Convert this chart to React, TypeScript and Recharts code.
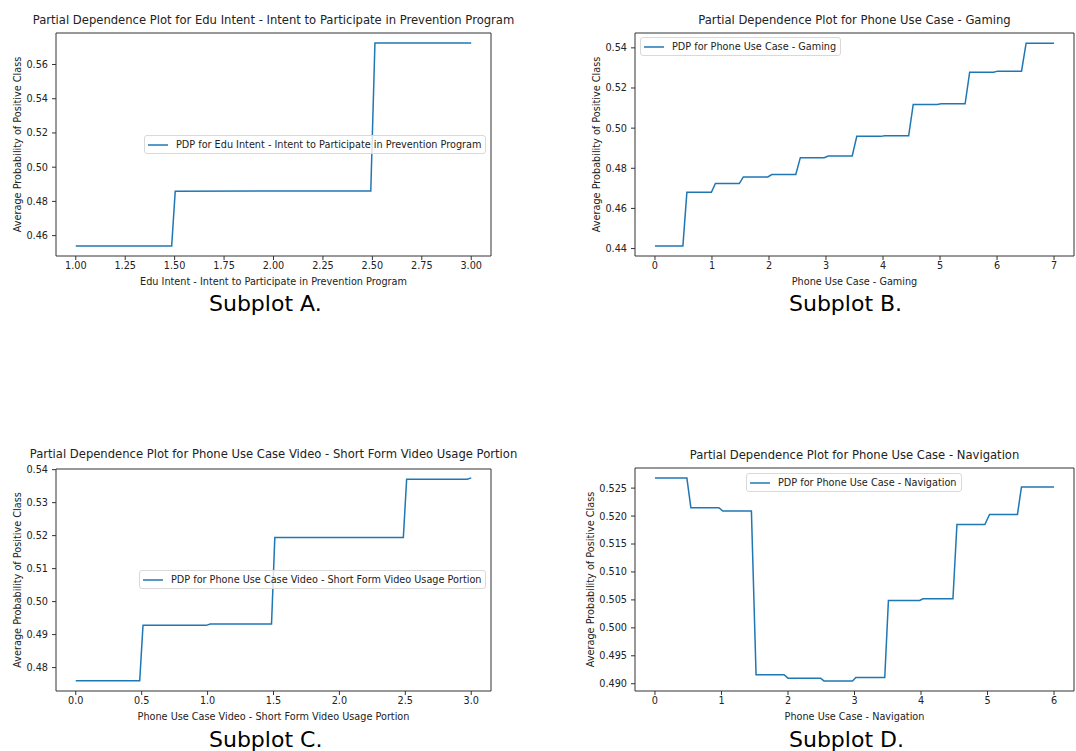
import { LineChart, Line, XAxis, YAxis, Legend, ReferenceArea, Label } from 'recharts'

const FONT = '"DejaVu Sans", sans-serif'
const BLUE = '#1f77b4'

// Subplot A - Edu Intent
const eduX = [1.0, 1.485, 1.503, 2.0, 2.492, 2.513, 3.0]
const eduY = [0.4539, 0.4539, 0.486, 0.4861, 0.4861, 0.5726, 0.5726]
const eduXTicks = [1.0, 1.25, 1.5, 1.75, 2.0, 2.25, 2.5, 2.75, 3.0]
const eduYTicks = [0.46, 0.48, 0.5, 0.52, 0.54, 0.56]

// Subplot B - Gaming
const gamingX = [0, 0.49, 0.56, 0.99, 1.06, 1.48, 1.55, 1.98, 2.05, 2.47, 2.55, 2.97, 3.04, 3.46, 3.54, 3.96, 4.03, 4.45, 4.53, 4.95, 5.02, 5.44, 5.52, 5.94, 6.01, 6.43, 6.51, 7.0]
const gamingY = [0.4413, 0.4413, 0.468, 0.468, 0.4724, 0.4724, 0.4757, 0.4757, 0.4769, 0.4769, 0.4853, 0.4853, 0.4861, 0.4861, 0.4959, 0.4959, 0.4962, 0.4962, 0.5118, 0.5118, 0.5121, 0.5121, 0.5279, 0.5279, 0.5284, 0.5284, 0.5423, 0.5423]
const gamingXTicks = [0, 1, 2, 3, 4, 5, 6, 7]
const gamingYTicks = [0.44, 0.46, 0.48, 0.5, 0.52, 0.54]

// Subplot C - Short form video
const videoX = [0, 0.485, 0.51, 0.99, 1.02, 1.485, 1.51, 2.485, 2.51, 2.97, 3.0]
const videoY = [0.476, 0.476, 0.4928, 0.4928, 0.4932, 0.4932, 0.5194, 0.5194, 0.5371, 0.5371, 0.5375]
const videoXTicks = [0, 0.5, 1.0, 1.5, 2.0, 2.5, 3.0]
const videoYTicks = [0.48, 0.49, 0.5, 0.51, 0.52, 0.53, 0.54]

// Subplot D - Navigation
const navX = [0, 0.48, 0.54, 0.96, 1.02, 1.45, 1.52, 1.94, 2.0, 2.49, 2.54, 2.97, 3.02, 3.455, 3.51, 3.98, 4.03, 4.48, 4.54, 4.96, 5.03, 5.45, 5.51, 6.0]
const navY = [0.5268, 0.5268, 0.5215, 0.5215, 0.5209, 0.5209, 0.4916, 0.4916, 0.491, 0.491, 0.4905, 0.4905, 0.4911, 0.4911, 0.5049, 0.5049, 0.5052, 0.5052, 0.5185, 0.5185, 0.5203, 0.5203, 0.5252, 0.5252]
const navXTicks = [0, 1, 2, 3, 4, 5, 6]
const navYTicks = [0.49, 0.495, 0.5, 0.505, 0.51, 0.515, 0.52, 0.525]

const zip = (xs: number[], ys: number[]) => xs.map((x, i) => ({ x, y: ys[i] }))

type Box = { x0: number; y0: number; x1: number; y1: number }

interface PanelProps {
  left: number
  top: number
  width: number
  height: number
  box: Box
  data: Array<{ x: number; y: number }>
  xDomain: [number, number]
  xTicks: number[]
  xDigits: number
  yDomain: [number, number]
  yTicks: number[]
  yDigits: number
  title: string
  titleTop: number
  xLabel: string
  legendText: string
  legendLeft: number
  legendTop: number
  yLabelX: number
  caption: string
  captionLeft: number
  captionTop: number
}

const X_AXIS_H = 34
const SMALL = 9.7
const tickStyle = { fontSize: SMALL, fill: '#222', fontFamily: FONT }

function PdpLegend({ text }: { text: string }) {
  return (
    <div
      style={{
        display: 'flex',
        width: 'max-content',
        alignItems: 'center',
        boxSizing: 'border-box',
        height: 19,
        background: 'rgba(255,255,255,0.8)',
        border: '1px solid #d9d9d9',
        borderRadius: 3,
        padding: '0 4px 0 3px',
        fontSize: SMALL,
        color: '#222',
        whiteSpace: 'nowrap',
        fontFamily: FONT,
        lineHeight: '11px'
      }}
    >
      <svg width={20} height={4} style={{ display: 'block', marginRight: 8 }}>
        <line x1={0} y1={2} x2={20} y2={2} stroke={BLUE} strokeWidth={1.5} />
      </svg>
      <span>{text}</span>
    </div>
  )
}

function Panel(p: PanelProps) {
  const boxCx = (p.box.x0 + p.box.x1) / 2
  const boxCy = (p.box.y0 + p.box.y1) / 2
  const margin = {
    top: p.box.y0 - p.top,
    right: p.left + p.width - p.box.x1,
    bottom: p.top + p.height - p.box.y1 - X_AXIS_H,
    left: 0
  }
  const yLabelY = boxCy - p.top
  const xLabelX = boxCx - p.left
  const xLabelY = p.box.y1 - p.top + 25

  return (
    <>
      <div
        style={{
          position: 'absolute',
          left: p.box.x0 - 60,
          width: p.box.x1 - p.box.x0 + 120,
          top: p.titleTop,
          textAlign: 'center',
          fontSize: 11.6,
          lineHeight: '11.6px',
          color: '#222',
          whiteSpace: 'nowrap'
        }}
      >
        {p.title}
      </div>
      <div style={{ position: 'absolute', left: p.left, top: p.top }}>
        <LineChart width={p.width} height={p.height} data={p.data} margin={margin}>
          <XAxis
            type="number"
            dataKey="x"
            domain={p.xDomain}
            ticks={p.xTicks}
            allowDataOverflow
            height={X_AXIS_H}
            tick={tickStyle}
            tickLine={{ stroke: '#333' }}
            axisLine={false}
            tickSize={4}
            tickMargin={2}
            tickFormatter={(v: number) => v.toFixed(p.xDigits)}
            interval={0}
          >
            <Label
              content={() => (
                <text x={xLabelX} y={xLabelY} textAnchor="middle" dominantBaseline="central" fontSize={SMALL} fill="#222" fontFamily={FONT}>
                  {p.xLabel}
                </text>
              )}
            />
          </XAxis>
          <YAxis
            type="number"
            domain={p.yDomain}
            ticks={p.yTicks}
            allowDataOverflow
            width={p.box.x0 - p.left}
            tick={tickStyle}
            tickLine={{ stroke: '#333' }}
            axisLine={false}
            tickSize={4}
            tickMargin={4}
            tickFormatter={(v: number) => v.toFixed(p.yDigits)}
            interval={0}
          >
            <Label
              content={() => (
                <text
                  x={p.yLabelX}
                  y={yLabelY}
                  transform={`rotate(-90 ${p.yLabelX} ${yLabelY})`}
                  textAnchor="middle"
                  dominantBaseline="central"
                  fontSize={SMALL}
                  fill="#222"
                  fontFamily={FONT}
                >
                  Average Probability of Positive Class
                </text>
              )}
            />
          </YAxis>
          <ReferenceArea
            x1={p.xDomain[0]}
            x2={p.xDomain[1]}
            y1={p.yDomain[0]}
            y2={p.yDomain[1]}
            fill="none"
            fillOpacity={0}
            stroke="#333"
            strokeWidth={1}
            ifOverflow="visible"
          />
          <Line type="linear" dataKey="y" stroke={BLUE} strokeWidth={1.5} dot={false} isAnimationActive={false} />
          <Legend
            layout="horizontal"
            verticalAlign="middle"
            align="center"
            wrapperStyle={{ left: p.legendLeft, top: p.legendTop, width: 'auto', height: 'auto', lineHeight: 0 }}
            content={() => <PdpLegend text={p.legendText} />}
          />
        </LineChart>
      </div>
      <div
        style={{
          position: 'absolute',
          left: p.captionLeft,
          top: p.captionTop,
          fontSize: 22,
          lineHeight: '22px',
          color: '#000',
          whiteSpace: 'nowrap'
        }}
      >
        {p.caption}
      </div>
    </>
  )
}

export default function App() {
  return (
    <div
      style={{
        position: 'absolute',
        left: 0,
        top: 0,
        width: 1076,
        height: 751,
        background: '#fff',
        fontFamily: FONT,
        overflow: 'hidden'
      }}
    >
      <Panel
        left={0}
        top={0}
        width={540}
        height={300}
        box={{ x0: 56, y0: 33, x1: 491, y1: 256 }}
        data={zip(eduX, eduY)}
        xDomain={[0.9, 3.1]}
        xTicks={eduXTicks}
        xDigits={2}
        yDomain={[0.4481, 0.5784]}
        yTicks={eduYTicks}
        yDigits={2}
        title="Partial Dependence Plot for Edu Intent - Intent to Participate in Prevention Program"
        titleTop={15}
        xLabel="Edu Intent - Intent to Participate in Prevention Program"
        legendText="PDP for Edu Intent - Intent to Participate in Prevention Program"
        legendLeft={144}
        legendTop={135}
        yLabelX={17}
        caption="Subplot A."
        captionLeft={209}
        captionTop={293}
      />
      <Panel
        left={540}
        top={0}
        width={536}
        height={300}
        box={{ x0: 635, y0: 33, x1: 1074, y1: 256 }}
        data={zip(gamingX, gamingY)}
        xDomain={[-0.35, 7.35]}
        xTicks={gamingXTicks}
        xDigits={0}
        yDomain={[0.4363, 0.5474]}
        yTicks={gamingYTicks}
        yDigits={2}
        title="Partial Dependence Plot for Phone Use Case - Gaming"
        titleTop={15}
        xLabel="Phone Use Case - Gaming"
        legendText="PDP for Phone Use Case - Gaming"
        legendLeft={100}
        legendTop={37}
        yLabelX={56}
        caption="Subplot B."
        captionLeft={789}
        captionTop={293}
      />
      <Panel
        left={0}
        top={440}
        width={540}
        height={300}
        box={{ x0: 56, y0: 469, x1: 491, y1: 691 }}
        data={zip(videoX, videoY)}
        xDomain={[-0.15, 3.15]}
        xTicks={videoXTicks}
        xDigits={1}
        yDomain={[0.4729, 0.5402]}
        yTicks={videoYTicks}
        yDigits={2}
        title="Partial Dependence Plot for Phone Use Case Video - Short Form Video Usage Portion"
        titleTop={449}
        xLabel="Phone Use Case Video - Short Form Video Usage Portion"
        legendText="PDP for Phone Use Case Video - Short Form Video Usage Portion"
        legendLeft={139}
        legendTop={130}
        yLabelX={17}
        caption="Subplot C."
        captionLeft={209}
        captionTop={729}
      />
      <Panel
        left={540}
        top={440}
        width={536}
        height={300}
        box={{ x0: 635, y0: 468, x1: 1074, y1: 691 }}
        data={zip(navX, navY)}
        xDomain={[-0.3, 6.3]}
        xTicks={navXTicks}
        xDigits={0}
        yDomain={[0.4887, 0.5286]}
        yTicks={navYTicks}
        yDigits={3}
        title="Partial Dependence Plot for Phone Use Case - Navigation"
        titleTop={450}
        xLabel="Phone Use Case - Navigation"
        legendText="PDP for Phone Use Case - Navigation"
        legendLeft={206}
        legendTop={33}
        yLabelX={50}
        caption="Subplot D."
        captionLeft={789}
        captionTop={729}
      />
    </div>
  )
}
